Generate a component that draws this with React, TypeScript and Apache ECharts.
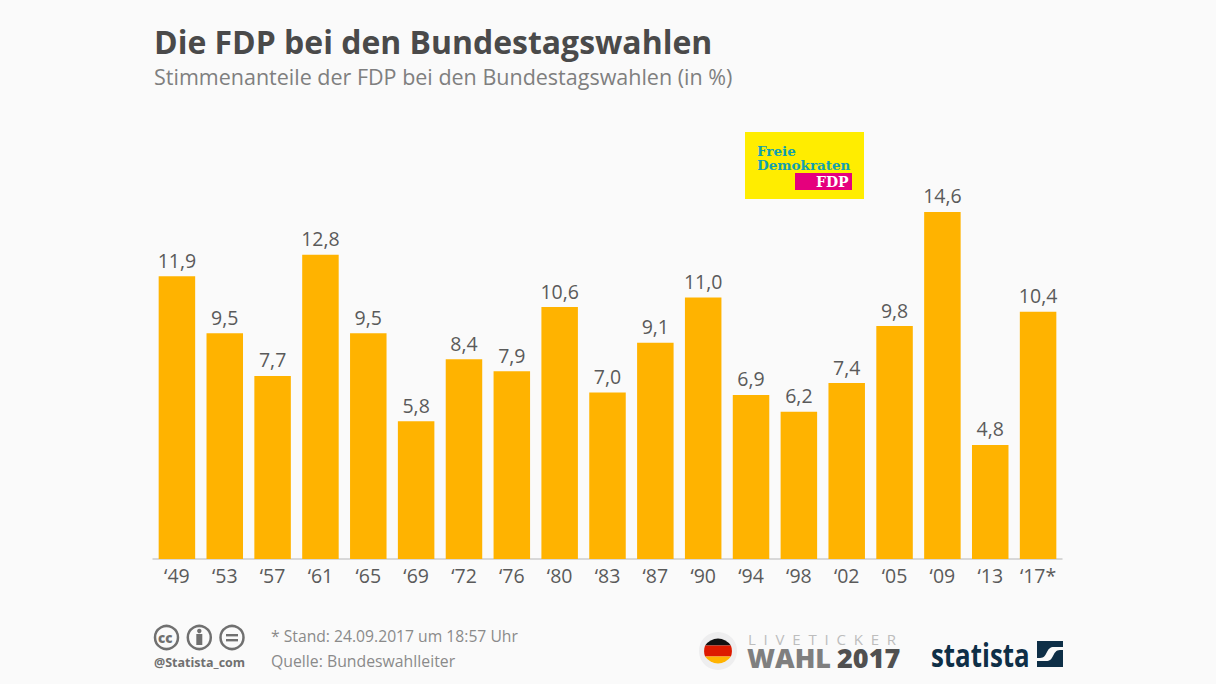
import React, { useEffect, useRef } from "react";
import * as echarts from "echarts";

const categories = ["‘49","‘53","‘57","‘61","‘65","‘69","‘72","‘76","‘80","‘83","‘87","‘90","‘94","‘98","‘02","‘05","‘09","‘13","‘17*"];
const shares = [11.9,9.5,7.7,12.8,9.5,5.8,8.4,7.9,10.6,7.0,9.1,11.0,6.9,6.2,7.4,9.8,14.6,4.8,10.4];

const FONT = "'Open Sans', sans-serif";
const SERIF = "'DejaVu Serif', serif";

// flag bands in a 31x31 box (circle radius 15.5); bands split at y=10 and y=21
const flagTop = "M2.6 10A15.5 15.5 0 0 1 28.4 10Z";
const flagBottom = "M2.6 21A15.5 15.5 0 0 0 28.4 21Z";
const flagMiddle = "M2.6 10H28.4A15.5 15.5 0 0 1 28.4 21H2.6A15.5 15.5 0 0 1 2.6 10Z";
// statista mark in a 26x26 box
const statistaA = "M0 0H26V6H17C13 6 11.5 8 10 11C8.5 14 7 17 3 17H0Z";
const statistaB = "M26 26H0V20H9C13 20 14.5 18 16 15C17.5 12 19 9 23 9H26Z";

echarts.graphic.registerShape("flagTop", echarts.graphic.extendPath(flagTop as any, {}) as any);
echarts.graphic.registerShape("flagBottom", echarts.graphic.extendPath(flagBottom as any, {}) as any);
echarts.graphic.registerShape("flagMiddle", echarts.graphic.extendPath(flagMiddle as any, {}) as any);
echarts.graphic.registerShape("statistaA", echarts.graphic.extendPath(statistaA as any, {}) as any);
echarts.graphic.registerShape("statistaB", echarts.graphic.extendPath(statistaB as any, {}) as any);

export default function App() {
  const ref = useRef<HTMLDivElement>(null);
  useEffect(() => {
    document.body.style.margin = "0";
    document.body.style.background = "#fafafa";
    const chart = echarts.init(ref.current!, null, { renderer: "svg" });
    const txt = (x: number, y: number, text: string, size: number, fill: string, weight: any = 400, extra: any = {}, el: any = {}) => ({
      type: "text", x, y, ...el,
      style: { text, fontFamily: FONT, fontSize: size, fontWeight: weight, fill, verticalAlign: "middle", ...extra },
    });
    const ccIcon = (cx: number, inner: any[]) => ({
      type: "group", x: cx, y: 637.5,
      children: [
        { type: "circle", shape: { cx: 0, cy: 0, r: 11.5 }, style: { fill: "none", stroke: "#707070", lineWidth: 2.5 } },
        ...inner,
      ],
    });
    chart.setOption({
      animation: false,
      backgroundColor: "#fafafa",
      grid: { left: 153, width: 909, top: 202.45, height: 356.55 },
      xAxis: {
        type: "category", data: categories,
        axisTick: { show: false },
        axisLine: { lineStyle: { color: "#ccc", width: 1.5 } },
        axisLabel: { color: "#5a5a5a", fontFamily: FONT, fontSize: 19.5, margin: 6.5, interval: 0 },
      },
      yAxis: { type: "value", min: 0, max: 15, show: false },
      series: [{
        type: "bar", data: shares, barWidth: 36.5,
        itemStyle: { color: "#ffb300" },
        label: {
          show: true, position: "top", distance: 6, color: "#5a5a5a", fontFamily: FONT, fontSize: 19.5,
          formatter: (p: any) => p.value.toFixed(1).replace(".", ","),
        },
      }],
      graphic: [
        txt(154, 41, "Die FDP bei den Bundestagswahlen", 31.95, "#4a4a4a", 700),
        txt(154, 76.5, "Stimmenanteile der FDP bei den Bundestagswahlen (in %)", 21.5, "#7f7f7f"),
        // FDP logo
        { type: "rect", shape: { x: 745, y: 132, width: 119, height: 67 }, style: { fill: "#ffed00" } },
        txt(757, 151, "Freie", 13.5, "#12a0b0", 700, { fontFamily: SERIF }),
        txt(757, 165, "Demokraten", 13.5, "#12a0b0", 700, { fontFamily: SERIF }),
        { type: "rect", shape: { x: 795, y: 173, width: 57, height: 17 }, style: { fill: "#e5007d" } },
        txt(816, 182, "FDP", 14, "#fff", 700, { fontFamily: SERIF }),
        // licence icons
        ccIcon(166.5, [txt(-8.5, 0, "cc", 13.5, "#707070", 800)]),
        ccIcon(199.3, [
          { type: "circle", shape: { cx: 0, cy: -6.5, r: 2.2 }, style: { fill: "#707070" } },
          { type: "rect", shape: { x: -3, y: -3.5, width: 6, height: 11 }, style: { fill: "#707070" } },
        ]),
        ccIcon(232, [
          { type: "rect", shape: { x: -6, y: -3.5, width: 12, height: 2.4 }, style: { fill: "#707070" } },
          { type: "rect", shape: { x: -6, y: 1.5, width: 12, height: 2.4 }, style: { fill: "#707070" } },
        ]),
        txt(154, 662, "@Statista_com", 12.5, "#707070", 700),
        txt(271, 636, "* Stand: 24.09.2017 um 18:57 Uhr", 15.7, "#8a8a8a"),
        txt(271, 661, "Quelle: Bundeswahlleiter", 15.8, "#8a8a8a"),
        // Liveticker badge
        { type: "circle", shape: { cx: 718, cy: 651, r: 19 }, style: { fill: "#eeeeef" } },
        { type: "flagTop", x: 702.5, y: 635.5, style: { fill: "#111" } },
        { type: "flagMiddle", x: 702.5, y: 635.5, style: { fill: "#dd1a00" } },
        { type: "flagBottom", x: 702.5, y: 635.5, style: { fill: "#ffb300" } },
        txt(748, 639, "L  I  V  E  T  I  C  K  E  R", 15, "#bdbdbd", 400, { lineHeight: 11 }),
        txt(747, 657, "WAHL", 27, "#7f7f7f", 800, { lineHeight: 21 }),
        txt(837, 657, "2017", 27, "#505050", 800, { lineHeight: 21 }),
        // statista
        txt(931, 654, "statista", 33, "#0e2f47", 700, {}, { scaleX: 0.785 }),
        { type: "statistaA", x: 1037, y: 641, style: { fill: "#0e2f47" } },
        { type: "statistaB", x: 1037, y: 641, style: { fill: "#0e2f47" } },
      ],
    });
    return () => chart.dispose();
  }, []);
  return <div ref={ref} style={{ width: 1216, height: 684 }} />;
}
